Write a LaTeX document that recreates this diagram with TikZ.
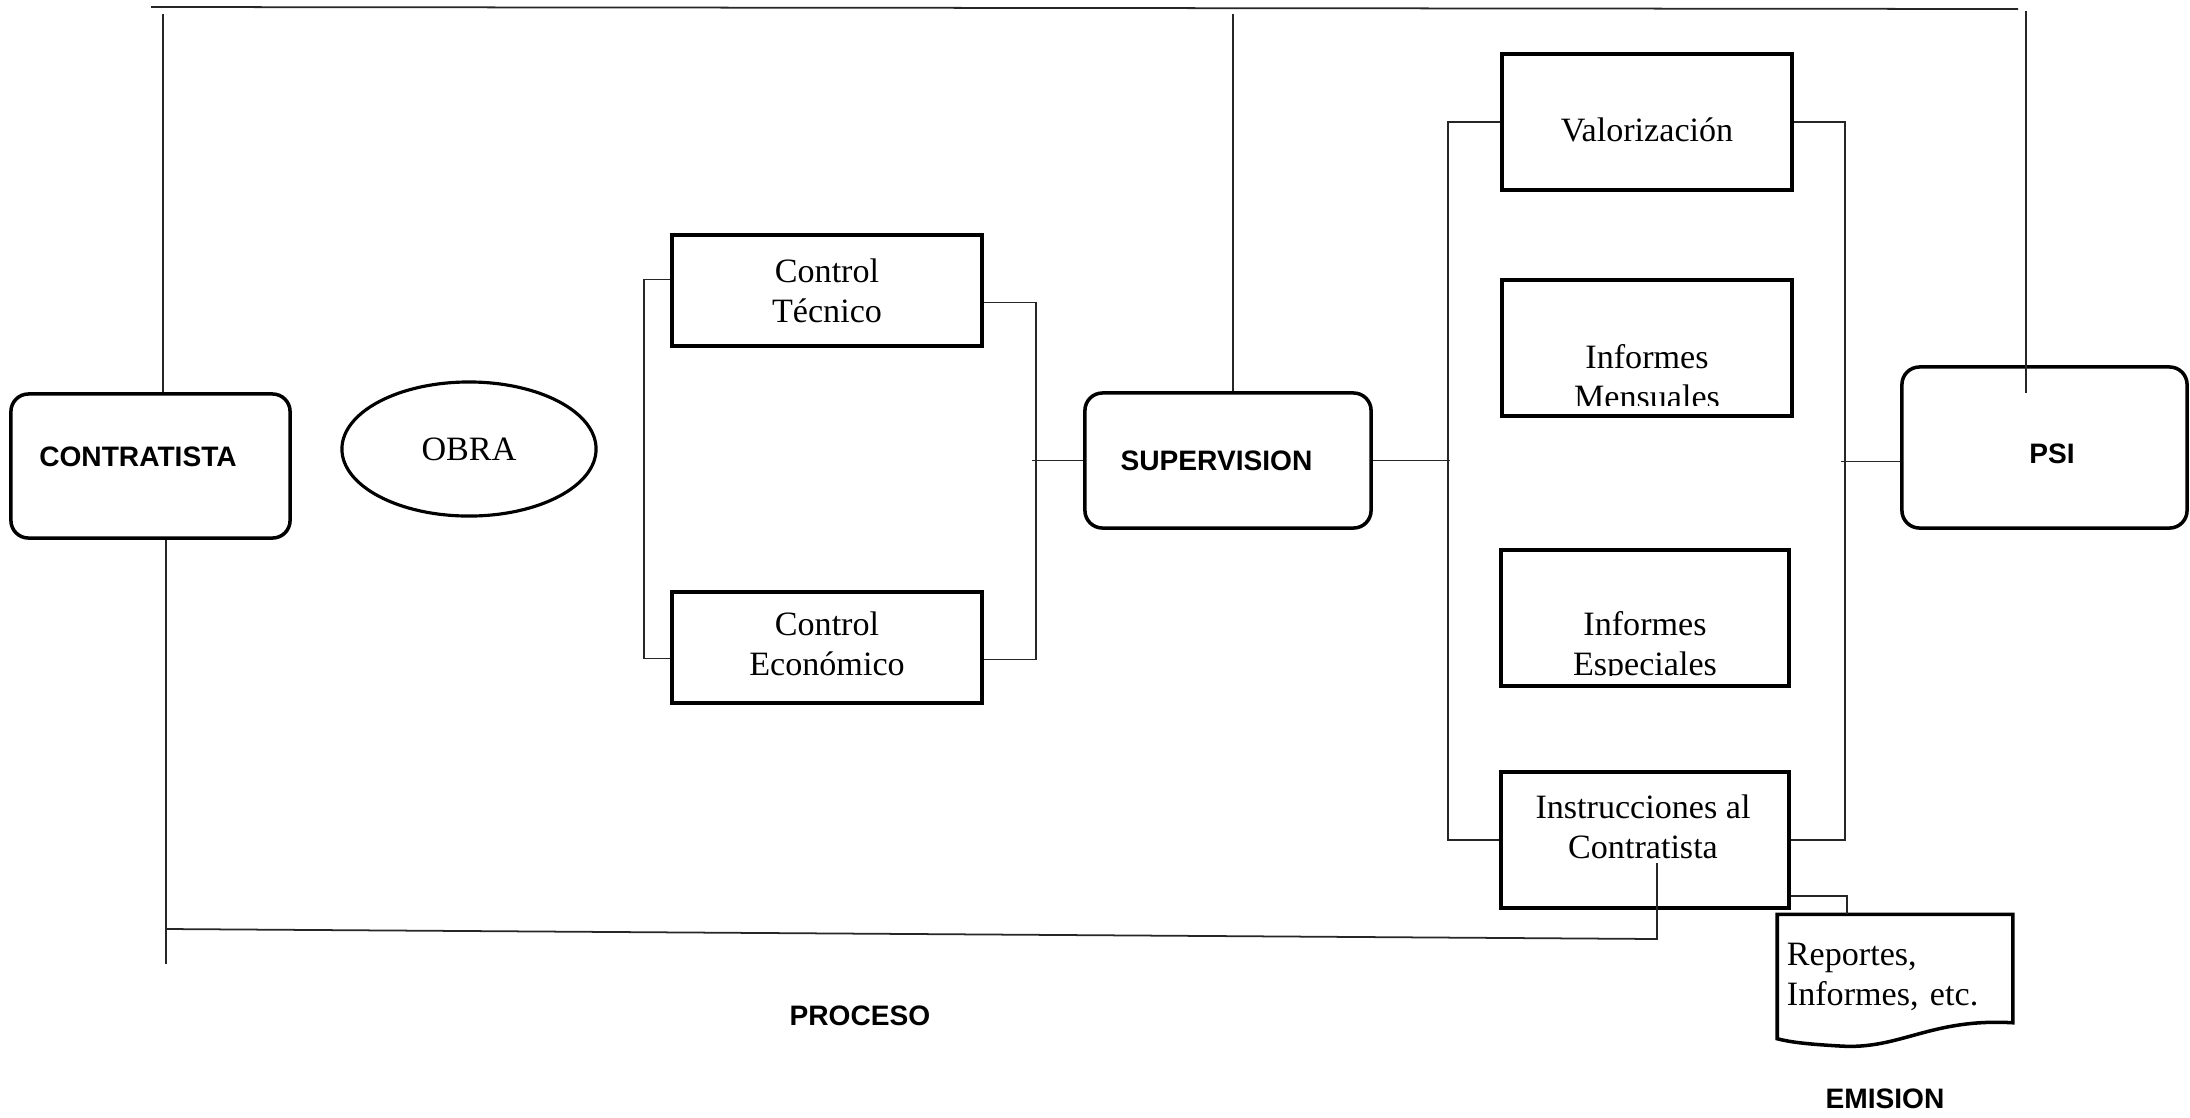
\documentclass[tikz,border=0pt]{standalone}
\usepackage{fontspec}
\setmainfont{Liberation Serif}
\setsansfont{Liberation Sans}
\usetikzlibrary{shapes.geometric,calc}

\begin{document}
\begin{tikzpicture}[x=0.01cm,y=-0.01cm,
    font=\fontsize{9.7}{11.4}\selectfont,
    wire/.style={line width=0.5pt,draw=black!85},
    rectbox/.style={draw,line width=1pt,rectangle,align=center,
      minimum width=2.90cm,minimum height=1.36cm,inner sep=0pt},
    roundbox/.style={draw,line width=1pt,rounded corners=5pt,
      minimum width=2.86cm,minimum height=1.35cm},
    caption/.style={font=\sffamily\bfseries\fontsize{8}{9.5}\selectfont}]
  \useasboundingbox (0,0) rectangle (2190,1117);

  \node[roundbox,minimum width=2.79cm,minimum height=1.44cm]
    (contratista) at (150.5,466) {};
  \node[caption] (contratista-txt) at (138,457) {CONTRATISTA};
  \node[draw,ellipse,line width=0.9pt,minimum width=2.54cm,
    minimum height=1.34cm,inner sep=0pt] (obra) at (469,449) {OBRA};
  \node[rectbox,minimum width=3.10cm,minimum height=1.11cm]
    (tecnico) at (827,290.5) {Control\\Técnico};
  \node[rectbox,minimum width=3.10cm,minimum height=1.11cm]
    (economico) at (827,647.5) {};
  \node[align=center] (economico-txt) at (827,644) {Control\\Económico};
  \node[roundbox] (supervision) at (1228,460.5) {};
  \node[caption] (supervision-txt) at (1216.5,461) {SUPERVISION};
  \node[rectbox] (valor) at (1647,122) {};
  \node (valor-txt) at (1647,130) {Valorización};
  \node[rectbox] (mensuales) at (1647,348) {};
  \node[rectbox,minimum width=2.88cm] (especiales) at (1645,618) {};
  \node[rectbox,minimum width=2.88cm] (instr) at (1645,840) {};
  \node[align=center] (instr-txt) at (1643,827)
    {Instrucciones al\\Contratista};
  \node[roundbox,minimum width=2.85cm,minimum height=1.61cm]
    (psi) at (2044.5,447.5) {};
  \node[caption] (psi-txt) at (2052,454) {PSI};
  \node[minimum width=2.34cm,minimum height=1.23cm,align=left,
    text width=2.16cm,inner sep=0pt]
    (reportes) at (1895,976.5) {Reportes,\\Informes, etc.};

  \foreach \n/\w in {mensuales/Mensuales,especiales/Especiales}{
    \begin{scope}
      \clip (\n.north west) rectangle ($(\n.south east)+(0,-12)$);
      \node[align=center] (\n-txt) at ($(\n.center)+(0,29)$)
        {Informes\\\w};
    \end{scope}
  }

  \draw[line width=1pt] (reportes.north west) -- (reportes.north east)
    -- ($(reportes.south east)+(0,-16)$)
    .. controls (1930,1018) and (1900,1050) .. (1840,1046)
    .. controls (1805,1044) and (1790,1042) .. (reportes.south west)
    -- cycle;

  \coordinate (topL) at (151,7);
  \coordinate (topR) at (2018,9);
  \draw[wire] (topL) -- (topR);
  \foreach \x/\n in {163/contratista,1233/supervision}
    \draw[wire] (\x,14) -- (\x,14 |- \n.north);
  \draw[wire] (2026,11) -- ($(2026,0 |- psi.north)+(0,28)$);

  \draw[wire] (166,0 |- contratista.south) -- (166,964);
  \draw[wire] (167,929) -- (1657,939) -- ($(instr.center)+(12,23)$);

  \draw[wire] ($(tecnico.west)+(0,-11)$) -- ++(-26,0)
    |- ($(economico.west)+(0,11)$);
  \draw[wire] ($(tecnico.east)+(0,12)$) -- ++(52,0)
    |- ($(economico.east)+(0,12)$);
  \draw[wire] (supervision.west) -- ++(-51,0);

  \draw[wire] (valor.west) -- ++(-52,0) |- (instr.west);
  \draw[wire] (supervision.east) -- (1450,0 |- supervision.east);
  \draw[wire] (valor.east) -- ++(51,0) |- (instr.east);
  \draw[wire] ($(psi.west)+(0,14)$) -- ++(-59,0);

  \draw[wire] ($(instr.east)+(0,56)$) -- (1847,896)
    -- (1847,0 |- reportes.north);

  \node[caption] (proceso) at (860,1016) {PROCESO};
  \node[caption] (emision) at (1885,1099) {EMISION};
\end{tikzpicture}
\end{document}
